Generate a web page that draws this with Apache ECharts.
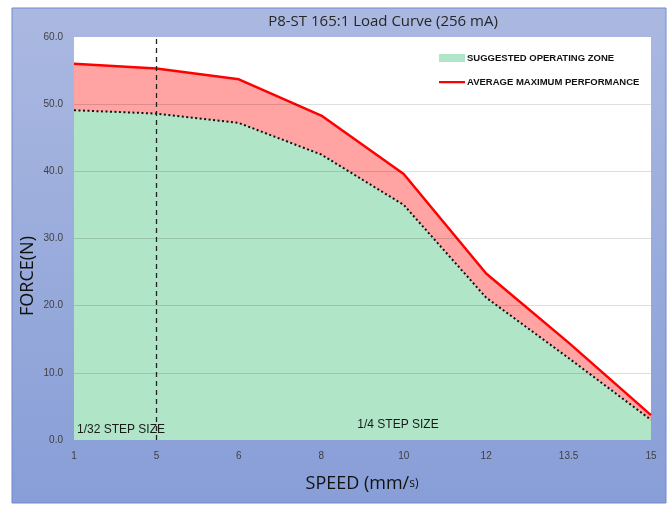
<!DOCTYPE html>
<html><head><meta charset="utf-8">
<script src="https://cdn.jsdelivr.net/npm/echarts@6/dist/echarts.min.js"></script>
<style>html,body{margin:0;padding:0;background:#fff;}#c{width:672px;height:505px;}</style>
</head><body><div id="c"></div>
<script>
const speeds = ['1','5','6','8','10','12','13.5','15'];
const maxPerformance = [56.0, 55.3, 53.7, 48.3, 39.6, 24.8, 14.5, 3.7];
const operatingZone = [49.1, 48.6, 47.2, 42.5, 35.0, 21.2, 12.2, 3.0];
const yTicks = [0, 10, 20, 30, 40, 50, 60];
const stepDivider = '5';

const FONT = '"Liberation Sans Narrow","Liberation Sans",sans-serif';
const chart = echarts.init(document.getElementById('c'));
chart.setOption({
  animation: false,
  graphic: [
    { type: 'rect', z: -10, shape: { x: 12, y: 8, width: 654, height: 495 },
      style: { fill: new echarts.graphic.LinearGradient(0,0,0,1,[{offset:0,color:'#abb9e1'},{offset:1,color:'#889ed7'}]), stroke: '#7088cf', lineWidth: 1 } },
    { type: 'text', style: { x: 383, y: 22, text: 'P8-ST 165:1 Load Curve (256 mA)', font: '15px "Open Sans",sans-serif', fill: '#262626', textAlign: 'center', textVerticalAlign: 'middle' } },
    { type: 'text', z: 50, style: { x: 77, y: 430, text: '1/32 STEP SIZE', font: '12px ' + FONT, fill: '#1a1a1a', textVerticalAlign: 'middle' } },
    { type: 'text', z: 50, style: { x: 398, y: 425, text: '1/4 STEP SIZE', font: '12px ' + FONT, fill: '#1a1a1a', textAlign: 'center', textVerticalAlign: 'middle' } },
    { type: 'text', style: { x: 362, y: 484, text: '{a|SPEED (mm/}{b|s)}', rich: { a: { fontSize: 18, fontFamily: '"Open Sans",sans-serif', fill: '#111' }, b: { fontSize: 12, fontFamily: '"Open Sans",sans-serif', fill: '#111' } }, textAlign: 'center', textVerticalAlign: 'middle' } },
    { type: 'text', rotation: Math.PI/2, x: 28, y: 276, style: { text: 'FORCE(N)', font: '18px "Open Sans",sans-serif', fill: '#111', textAlign: 'center', textVerticalAlign: 'middle' } }
  ],
  legend: {
    orient: 'vertical', left: 434, top: 48, itemWidth: 26, itemHeight: 8, itemGap: 14,
    textStyle: { fontSize: 9.5, fontWeight: 'bold', fontFamily: FONT, color: '#111', padding: [0,0,0,-3] },
    data: [
      { name: 'SUGGESTED OPERATING ZONE', icon: 'rect', itemStyle: { color: '#b0e5c7', borderWidth: 0 } },
      { name: 'AVERAGE MAXIMUM PERFORMANCE', icon: 'path://M0 0h0.01v8h-0.01z M0 3h26v2.2H0z', itemStyle: { color: '#ff0000', borderWidth: 0 } }
    ]
  },
  grid: { left: 74, right: 21, top: 37, bottom: 65, show: true, backgroundColor: '#fff', borderWidth: 0 },
  xAxis: {
    type: 'category', data: speeds, boundaryGap: false,
    axisLine: { show: false }, axisTick: { show: false },
    axisLabel: { fontSize: 10, fontFamily: FONT, color: '#404040', margin: 11 }
  },
  yAxis: {
    type: 'value', min: yTicks[0], max: yTicks[yTicks.length-1], interval: 10,
    axisLine: { show: false }, axisTick: { show: false }, splitLine: { show: false },
    axisLabel: { fontSize: 10, fontFamily: FONT, color: '#404040', margin: 11, formatter: v => v.toFixed(1) }
  },
  series: [
    { name: 'AVERAGE MAXIMUM PERFORMANCE', type: 'line', data: maxPerformance, symbol: 'none',
      lineStyle: { color: '#ff0000', width: 2.5 }, itemStyle: { color: '#ff0000' },
      areaStyle: { color: '#ffa3a3', opacity: 1 }, z: 2 },
    { name: 'SUGGESTED OPERATING ZONE', type: 'line', data: operatingZone, symbol: 'none',
      lineStyle: { color: '#111', width: 2, type: [2, 2.5] }, itemStyle: { color: '#b0e5c7' },
      areaStyle: { color: '#b0e5c7', opacity: 1 }, z: 3,
      markLine: { silent: true, symbol: 'none', label: { show: false }, animation: false,
        data: yTicks.slice(1, -1).map(v => ({ yAxis: v, lineStyle: { color: 'rgba(0,0,0,0.13)', width: 1, type: 'solid' } }))
          .concat([{ xAxis: stepDivider, lineStyle: { color: '#222', width: 1.3, type: [5, 4] } }]) } }
  ]
});
</script></body></html>
